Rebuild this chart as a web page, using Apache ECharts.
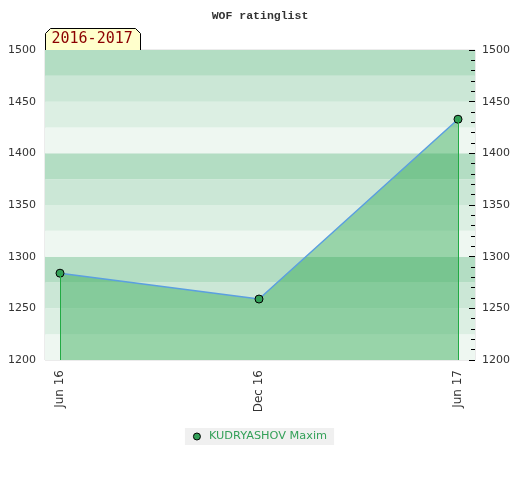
<!DOCTYPE html>
<html><head><meta charset="utf-8">
<script src="https://cdn.jsdelivr.net/npm/echarts@6/dist/echarts.min.js"></script>
<style>html,body{margin:0;padding:0;background:#fff}#c{width:520px;height:480px}</style>
</head><body><div id="c"></div>
<script>
var xLabels = ['Jun 16', 'Dec 16', 'Jun 17'];
var xPos = [0, 1, 2];
var ratings = [1284, 1259, 1433];
var seriesName = 'KUDRYASHOV Maxim';
var periodLabel = '2016-2017';
var yMin = 1200, yMax = 1500;

var chart = echarts.init(document.getElementById('c'), null, {renderer: 'canvas'});
var pts = xPos.map(function (x, i) { return [x, ratings[i]]; });
var lastI = pts.length - 1;
var option = {
  animation: false,
  title: {
    text: 'WOF ratinglist', left: 'center', top: 5,
    textStyle: {fontFamily: 'Liberation Mono', fontWeight: 'bold', fontSize: 11.5, color: '#333'}
  },
  grid: {left: 45, right: 45, top: 50, bottom: 120, show: true, borderColor: '#d8d8d8', borderWidth: 1, backgroundColor: 'transparent'},
  xAxis: {
    type: 'value', min: -0.0754, max: 2.0854,
    axisLine: {show: false},
    axisTick: {show: false},
    splitLine: {show: false},
    axisLabel: {
      customValues: xPos, rotate: 90, color: '#333', fontSize: 12, fontFamily: 'DejaVu Sans', margin: 10,
      formatter: function (v) { return xLabels[Math.round(v)] || ''; }
    }
  },
  yAxis: [
    {
      type: 'value', min: yMin, max: yMax, interval: 25, position: 'left',
      axisLine: {show: false}, axisTick: {show: false}, splitLine: {show: false},
      splitArea: {show: true, areaStyle: {color: ['#eef7f1', '#dcefe3', '#cbe7d6', '#b3ddc3']}},
      axisLabel: {color: '#333', fontSize: 11, fontFamily: 'DejaVu Sans', margin: 9,
        formatter: function (v) { return v % 50 === 0 ? String(v) : ''; }}
    },
    {
      type: 'value', min: yMin, max: yMax, interval: 50, position: 'right',
      axisLine: {show: false},
      axisTick: {show: true, inside: true, length: 6, lineStyle: {color: '#000'}},
      minorTick: {show: true, splitNumber: 5, length: 4, lineStyle: {color: '#000'}},
      splitLine: {show: false},
      axisLabel: {color: '#333', fontSize: 11, fontFamily: 'DejaVu Sans', margin: 7,
        formatter: function (v) { return String(v); }}
    }
  ],
  legend: {
    data: [seriesName], top: 428, left: 'center',
    backgroundColor: '#f0f0f0', padding: [3, 7, 3, 8],
    icon: 'circle', itemWidth: 14, itemHeight: 7, itemGap: 10,
    itemStyle: {color: '#33a058', borderColor: '#000', borderWidth: 1},
    textStyle: {color: '#33a058', fontSize: 11.3, fontFamily: 'DejaVu Sans'}
  },
  series: [{
    name: seriesName, type: 'line', data: pts,
    symbol: 'circle', symbolSize: 8,
    itemStyle: {color: '#33a058', borderColor: '#000', borderWidth: 1},
    lineStyle: {color: '#5b9fe0', width: 1.5},
    areaStyle: {color: 'rgb(51,170,85)', opacity: 0.46, origin: 'start'},
    markLine: {
      silent: true, symbol: 'none', label: {show: false},
      lineStyle: {color: '#22aa44', width: 1, type: 'solid'},
      data: [
        [{coord: [pts[0][0], pts[0][1]]}, {coord: [pts[0][0], yMin]}],
        [{coord: [pts[lastI][0], pts[lastI][1]]}, {coord: [pts[lastI][0], yMin]}]
      ]
    },
    z: 3
  }],
  graphic: [{
    type: 'group', left: 45, top: 28,
    children: [
      {type: 'polygon', shape: {points: [[0, 22], [0, 5], [5, 0], [90, 0], [95, 5], [95, 22]]},
        style: {fill: '#ffffcc', stroke: '#000', lineWidth: 1}},
      {type: 'text', left: 6, top: 3, style: {text: periodLabel, fill: '#8b0000', font: '15px "DejaVu Sans Mono"'}}
    ]
  }]
};
chart.setOption(option);
</script></body></html>
